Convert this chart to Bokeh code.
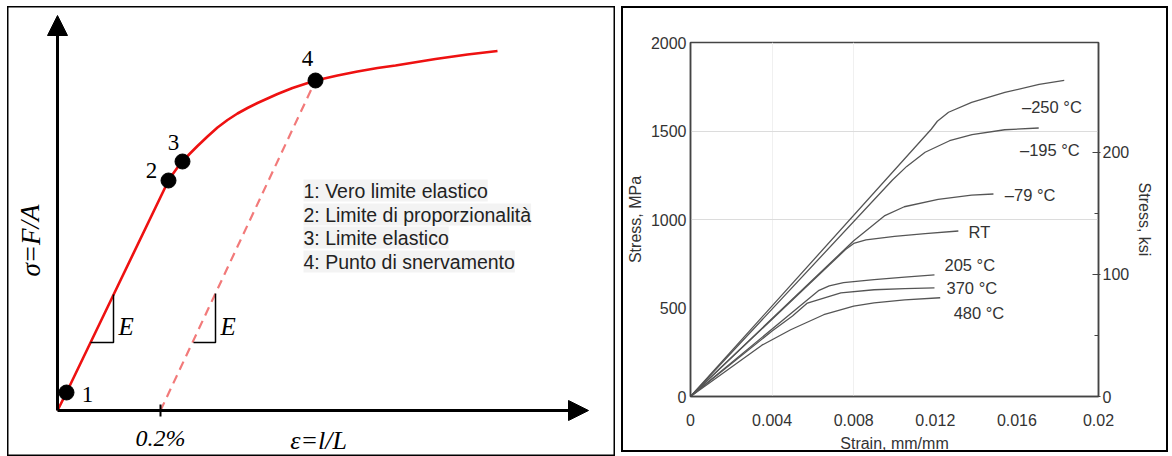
from bokeh.plotting import figure
from bokeh.models import (Range1d, Arrow, NormalHead, LinearAxis, FixedTicker,
                          ColumnDataSource)
from bokeh.layouts import row
from bokeh.core.properties import value
from bokeh.embed import file_html
from bokeh.resources import INLINE

# ---------------- left panel: schematic stress-strain curve ----------------
curve_x = [0, 9, 60, 111, 115, 120, 125, 132, 140, 150, 160, 170, 180, 190, 200, 210, 220,
           235, 258, 280, 300, 320, 338, 378, 410, 440]
curve_y = [0, 18, 124, 230, 236, 243, 249, 256.5, 264.5, 274, 283, 290.5, 297, 302.5, 307.5,
           312, 316.5, 322.5, 330, 335, 339, 342.5, 345, 351.5, 356, 359.5]
offset_x = [103, 258]          # 0.2% offset line
offset_y = [0, 330]
point_x = [9, 111, 125, 258]
point_y = [18, 230, 249, 330]
point_labels = ["1", "2", "3", "4"]
point_label_dx = [21, -17, -9, -8]
point_label_dy = [2, -10, -19, -22]
slope_x = [[33, 56, 56], [136, 158, 158]]
slope_y = [[68, 68, 116], [68, 68, 117]]
legend_lines = ["1: Vero limite elastico", "2: Limite di proporzionalità",
                "3: Limite elastico", "4: Punto di snervamento"]

SERIF = value("Liberation Serif")
SANS = value("Liberation Sans")

p1 = figure(width=608, height=450, x_range=Range1d(-50, 558), y_range=Range1d(-46, 404),
            output_backend="svg", toolbar_location=None, min_border=0,
            x_axis_location=None, y_axis_location=None, title=None)
p1.frame_align = False
p1.grid.visible = False
p1.outline_line_color = "black"
p1.outline_line_width = 2
p1.background_fill_color = "white"

# axes drawn as arrows
p1.add_layout(Arrow(end=NormalHead(size=20, fill_color="black", line_color="black"),
                    x_start=0, y_start=0, x_end=0, y_end=395, line_width=3, line_color="black"))
p1.add_layout(Arrow(end=NormalHead(size=20, fill_color="black", line_color="black"),
                    x_start=0, y_start=0, x_end=531, y_end=0, line_width=3, line_color="black"))

p1.line(offset_x, offset_y, line_color="#f27a7a", line_width=2.2, line_dash="9 6")
p1.line(curve_x, curve_y, line_color="#ee1111", line_width=2.6, line_join="round")
p1.segment(x0=[offset_x[0]], y0=[-6], x1=[offset_x[0]], y1=[6], line_color="black", line_width=2)
p1.multi_line(slope_x, slope_y, line_color="black", line_width=1.5)
p1.scatter(point_x, point_y, size=15, fill_color="black", line_color="black")

src_pts = ColumnDataSource(dict(x=point_x, y=point_y, t=point_labels,
                                dx=point_label_dx, dy=point_label_dy))
p1.text(x="x", y="y", text="t", x_offset="dx", y_offset="dy", source=src_pts,
        text_font=SERIF, text_font_size="23px", text_align="center",
        text_baseline="middle", text_color="black")

p1.text(x=[61, 163], y=[84, 84], text=["E", "E"], text_font=SERIF,
        text_font_style="italic", text_font_size="25px", text_baseline="middle",
        text_color="black")

p1.text(x=[246] * 4, y=[220, 196, 173, 149], text=legend_lines, text_font=SANS,
        text_font_size="19.5px", text_baseline="middle", text_color="#222222",
        background_fill_color="#f3f3f3")

p1.text(x=[offset_x[0]], y=[-27], text=["0.2%"], text_font=SERIF, text_font_style="italic",
        text_font_size="24px", text_align="center", text_baseline="middle", text_color="black")
p1.text(x=[261], y=[-30], text=["ε=l/L"], text_font=SERIF, text_font_style="italic",
        text_font_size="26px", text_align="center", text_baseline="middle", text_color="black")
p1.text(x=[-27], y=[170], text=["σ=F/A"], angle=1.5708, text_font=SERIF,
        text_font_style="italic", text_font_size="27px", text_align="center",
        text_baseline="middle", text_color="black")

# ---------------- right panel: stress-strain curves vs temperature ----------------
strain_m250 = [0, 0.0118, 0.0121, 0.01265, 0.01378, 0.01541, 0.01709, 0.01832]
stress_m250 = [0, 1510, 1555, 1606, 1662, 1718, 1763, 1786]
strain_m195 = [0, 0.0099, 0.0106, 0.0115, 0.0127, 0.0138, 0.0154, 0.01707]
stress_m195 = [0, 1223, 1300, 1380, 1445, 1480, 1507, 1517]
strain_m79 = [0, 0.0080, 0.00885, 0.0095, 0.01048, 0.01214, 0.01378, 0.01485]
stress_m79 = [0, 880, 959, 1020, 1072, 1114, 1138, 1144]
strain_rt = [0, 0.0076, 0.0080, 0.0086, 0.0100, 0.0115, 0.01313]
stress_rt = [0, 830, 865, 885, 905, 920, 935]
strain_205 = [0, 0.0063, 0.0068, 0.0075, 0.0090, 0.0105, 0.01196]
stress_205 = [0, 600, 625, 643, 660, 675, 687]
strain_370 = [0, 0.0040, 0.0050, 0.00573, 0.00737, 0.0090, 0.0105, 0.01196]
stress_370 = [0, 370, 455, 528, 586, 603, 610, 614]
strain_480 = [0, 0.0035, 0.00491, 0.00653, 0.0080, 0.0090, 0.0105, 0.01224]
stress_480 = [0, 290, 377, 462, 510, 529, 546, 558]

curve_labels = ["–250 °C", "–195 °C", "–79 °C", "RT", "205 °C", "370 °C", "480 °C"]
curve_label_x = [0.01625, 0.01615, 0.01541, 0.01363, 0.01245, 0.01255, 0.01290]
curve_label_y = [1635, 1391, 1138, 931, 744, 614, 473]

strain_ticks = [0, 0.004, 0.008, 0.012, 0.016, 0.02]
strain_tick_labels = ["0", "0.004", "0.008", "0.012", "0.016", "0.02"]
mpa_ticks = [0, 500, 1000, 1500, 2000]
ksi_ticks = [0, 100, 200]
ksi_minor = [50, 150]
MPA_PER_KSI = 6.895

TXT = "#333333"
p2 = figure(width=547, height=446, x_range=Range1d(0, 0.02), y_range=Range1d(0, 2000),
            output_backend="svg", toolbar_location=None, title=None,
            min_border_left=67, min_border_right=72, min_border_top=34, min_border_bottom=57)
p2.frame_align = False
p2.styles = {"border": "2px solid black"}
p2.outline_line_color = "#444444"
p2.outline_line_width = 1.5

p2.xaxis.ticker = FixedTicker(ticks=strain_ticks)
p2.xaxis.major_label_overrides = dict(zip(strain_ticks, strain_tick_labels))
p2.yaxis.ticker = FixedTicker(ticks=mpa_ticks)
p2.xaxis.axis_label = "Strain, mm/mm"
p2.yaxis.axis_label = "Stress, MPa"

p2.extra_y_ranges = {"ksi": Range1d(0, 2000 / MPA_PER_KSI)}
ax_r = LinearAxis(y_range_name="ksi", axis_label="Stress, ksi",
                  ticker=FixedTicker(ticks=ksi_ticks, minor_ticks=ksi_minor))
p2.add_layout(ax_r, "right")

for ax in [p2.xaxis[0], p2.yaxis[0], ax_r]:
    ax.axis_line_color = "#444444"
    ax.axis_line_width = 1.5
    ax.major_label_text_font = "Liberation Sans"
    ax.major_label_text_font_size = "16px"
    ax.major_label_text_color = TXT
    ax.axis_label_text_font = "Liberation Sans"
    ax.axis_label_text_font_size = "16px"
    ax.axis_label_text_font_style = "normal"
    ax.axis_label_text_color = TXT
    ax.major_label_standoff = 4
    ax.axis_label_standoff = 4

p2.xaxis.major_label_standoff = 17
p2.xaxis.axis_label_standoff = 6

for ax in [p2.xaxis[0], p2.yaxis[0]]:
    ax.major_tick_out = 0
    ax.major_tick_in = 0
    ax.minor_tick_out = 0
    ax.minor_tick_in = 0
ax_r.major_tick_in = 6
ax_r.major_tick_out = 2
ax_r.minor_tick_in = 4
ax_r.minor_tick_out = 0
ax_r.major_tick_line_color = "#444444"
ax_r.minor_tick_line_color = "#444444"
ax_r.major_label_standoff = 2

p2.ygrid.ticker = FixedTicker(ticks=[1000, 1500])
p2.ygrid.grid_line_color = "#dcdcdc"
p2.xgrid.ticker = FixedTicker(ticks=[0.004, 0.008])
p2.xgrid.grid_line_color = "#f0f0f0"

series = [(strain_m250, stress_m250), (strain_m195, stress_m195), (strain_m79, stress_m79),
          (strain_rt, stress_rt), (strain_205, stress_205), (strain_370, stress_370),
          (strain_480, stress_480)]
for sx, sy in series:
    p2.line(sx, sy, line_color="#555555", line_width=1.3, line_join="round")

p2.text(x=curve_label_x, y=curve_label_y, text=curve_labels, text_font=SANS,
        text_font_size="16.5px", text_baseline="middle", text_color=TXT)

layout = row(p1, p2, spacing=6, margin=(6, 0, 0, 7))
open("out.html", "w").write(file_html(layout, INLINE))
